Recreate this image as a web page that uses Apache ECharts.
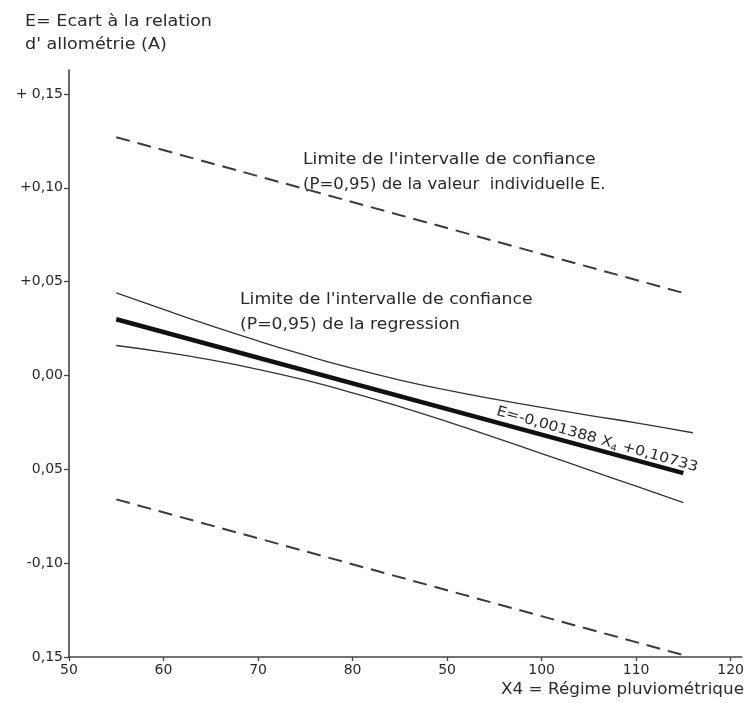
<!DOCTYPE html>
<html>
<head>
<meta charset="utf-8">
<script src="https://cdn.jsdelivr.net/npm/echarts@6/dist/echarts.min.js"></script>
<style>html,body{margin:0;padding:0;background:#fff}#c{width:747px;height:703px}</style>
</head>
<body>
<div id="c"></div>
<script>
// ---- data ----
const xTickValues = [50, 60, 70, 80, 90, 100, 110, 120];
const xTickLabels = ['50', '60', '70', '80', '50', '100', '110', '120'];
const yTickValues = [-0.15, -0.10, -0.05, 0, 0.05, 0.10, 0.15];
const yTickLabels = ['0,15', '-0,10', '0,05', '0,00', '+0,05', '+0,10', '+ 0,15'];

const lineX = [55, 115];
const regression = [0.030, -0.052];
const predUpper = [0.127, 0.044];
const predLower = [-0.066, -0.149];

const ciUpperX = [55, 60, 65, 70, 75, 80, 85, 90, 95, 100, 105, 110, 116];
const ciUpper = [0.044, 0.0352, 0.0266, 0.0184, 0.0108, 0.0038, -0.0024, -0.0078, -0.0126, -0.0170, -0.0212, -0.0252, -0.0305];
const ciLowerX = [55, 60, 65, 70, 75, 80, 85, 90, 95, 100, 105, 110, 115];
const ciLower = [0.016, 0.0125, 0.0083, 0.0033, -0.0025, -0.0092, -0.0166, -0.0246, -0.0330, -0.0416, -0.0503, -0.0590, -0.0677];

const pairs = (xs, ys) => xs.map((x, i) => [x, ys[i]]);

const FONT = 'DejaVu Sans';
const TXT = '#2a2a2a';

function label(x, y, text, size, sx, align) {
  return {type: 'text', x: x, y: y, scaleX: sx, scaleY: 1,
    style: {text: text, font: size + 'px "DejaVu Sans"', fill: TXT, textVerticalAlign: 'middle', textAlign: align || 'left'}};
}

const chart = echarts.init(document.getElementById('c'), null, {renderer: 'canvas'});
chart.setOption({
  animation: false,
  backgroundColor: '#ffffff',
  grid: {left: 69, right: 2, top: 70, bottom: 46},
  xAxis: {
    type: 'value', min: 50, max: 121.2,
    splitLine: {show: false},
    axisLine: {onZero: false, lineStyle: {color: '#444', width: 1.6}},
    axisTick: {customValues: xTickValues, length: 4, lineStyle: {color: '#444', width: 1.3}},
    axisLabel: {
      customValues: xTickValues,
      formatter: v => xTickLabels[xTickValues.indexOf(Math.round(v))] || '',
      color: TXT, fontFamily: FONT, fontSize: 14, margin: 6
    }
  },
  yAxis: {
    type: 'value', min: -0.15, max: 0.1628,
    splitLine: {show: false},
    axisLine: {onZero: false, lineStyle: {color: '#444', width: 1.6}},
    axisTick: {customValues: yTickValues, length: 5, lineStyle: {color: '#444', width: 1.3}},
    axisLabel: {
      customValues: yTickValues,
      formatter: v => {
        const i = yTickValues.findIndex(t => Math.abs(t - v) < 1e-6);
        return i >= 0 ? yTickLabels[i] : '';
      },
      color: TXT, fontFamily: FONT, fontSize: 14, margin: 6
    }
  },
  series: [
    {type: 'line', data: pairs(lineX, predUpper), showSymbol: false,
     lineStyle: {color: '#3a3a3a', width: 2, type: [14, 8]}},
    {type: 'line', data: pairs(lineX, predLower), showSymbol: false,
     lineStyle: {color: '#3a3a3a', width: 2, type: [14, 8]}},
    {type: 'line', data: pairs(ciUpperX, ciUpper), showSymbol: false, smooth: true,
     lineStyle: {color: '#333', width: 1.3}},
    {type: 'line', data: pairs(ciLowerX, ciLower), showSymbol: false, smooth: true,
     lineStyle: {color: '#333', width: 1.3}},
    {type: 'line', data: pairs(lineX, regression), showSymbol: false,
     lineStyle: {color: '#111', width: 4.5}}
  ],
  graphic: [
    label(25, 22, 'E= Ecart à la relation', 15, 1.17),
    label(25, 45, "d' allométrie (A)", 15, 1.17),
    label(303, 160, "Limite de l'intervalle de confiance", 15, 1.15),
    label(303, 185, '(P=0,95) de la valeur  individuelle E.', 15, 1.1),
    label(240, 300, "Limite de l'intervalle de confiance", 15, 1.15),
    label(240, 325, '(P=0,95) de la regression', 15, 1.15),
    {type: 'text', x: 499, y: 403, rotation: -0.275, scaleX: 1.12,
     style: {text: '{n|E=-0,001388 X}{s|4}{n| +0,10733}', fill: TXT,
       rich: {n: {fontFamily: FONT, fontSize: 14, fill: TXT}, s: {fontFamily: FONT, fontSize: 9, fill: TXT, padding: [8, 0, 0, 0]}}}},
    label(744, 690, 'X4 = Régime pluviométrique', 15, 1.12, 'right')
  ]
});
</script>
</body>
</html>
